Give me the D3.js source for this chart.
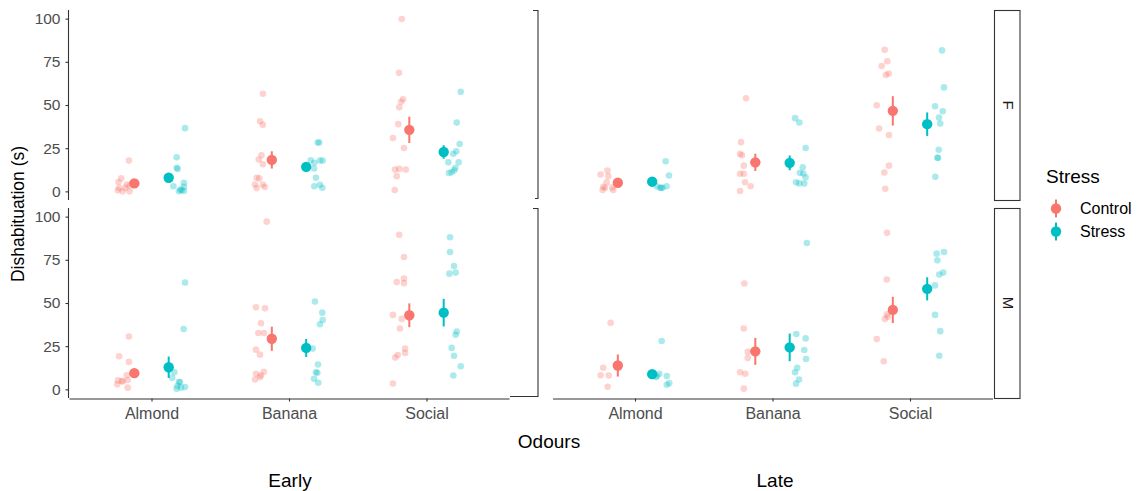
<!DOCTYPE html>
<html>
<head>
  <title>Dishabituation by odour</title>
  <script src="https://d3js.org/d3.v7.min.js"></script>
  <style>
    body { margin: 0; background: #fff; }
    text { font-family: "Liberation Sans", Arial, sans-serif; }
    .tick text { fill: #4d4d4d; }
    .y-axis .tick text { font-size: 15.5px; }
    .x-axis .tick text { font-size: 16px; }
    .tick line, .domain { stroke: #333; stroke-width: 1.1; }
  </style>
</head>
<body>
  <svg id="chart"></svg>

  <script>
    var times = ["Early", "Late"];
    var sexes = ["F", "M"];
    var odours = ["Almond", "Banana", "Social"];
    var groups = ["Control", "Stress"];
    var yTicks = [0, 25, 50, 75, 100];
    var colors = ["#F8766D", "#00BFC4"];

    // raw points: [odour, group, jitter (category units), value]
    var pointsEarlyF = [
      ["Almond","Control",-0.164,17.8],["Almond","Control",-0.22,7.5],["Almond","Control",-0.24,5.4],
      ["Almond","Control",-0.18,4.0],["Almond","Control",-0.16,3.4],["Almond","Control",-0.245,0.6],
      ["Almond","Control",-0.21,0.0],["Almond","Control",-0.16,0.0],["Almond","Control",-0.19,2.0],
      ["Almond","Control",-0.235,2.0],
      ["Almond","Stress",0.244,36.6],["Almond","Stress",0.183,19.7],["Almond","Stress",0.183,13.6],
      ["Almond","Stress",0.19,13.0],["Almond","Stress",0.159,3.0],["Almond","Stress",0.236,5.0],
      ["Almond","Stress",0.236,2.7],["Almond","Stress",0.22,0.8],["Almond","Stress",0.236,0.2],
      ["Almond","Stress",0.21,1.0],["Almond","Stress",0.2,0.0],
      ["Banana","Control",-0.19,56.5],["Banana","Control",-0.21,40.6],["Banana","Control",-0.19,38.5],
      ["Banana","Control",-0.20,20.9],["Banana","Control",-0.22,18.4],["Banana","Control",-0.19,15.7],
      ["Banana","Control",-0.235,7.9],["Banana","Control",-0.216,7.5],["Banana","Control",-0.247,4.0],
      ["Banana","Control",-0.235,1.9],["Banana","Control",-0.19,4.0],["Banana","Control",-0.177,2.5],
      ["Banana","Stress",0.209,28.3],["Banana","Stress",0.22,28.3],["Banana","Stress",0.158,18.0],
      ["Banana","Stress",0.184,16.5],["Banana","Stress",0.225,17.8],["Banana","Stress",0.245,17.8],
      ["Banana","Stress",0.182,13.2],["Banana","Stress",0.196,7.9],["Banana","Stress",0.184,3.0],
      ["Banana","Stress",0.225,3.8],["Banana","Stress",0.242,2.1],
      ["Social","Control",-0.18,99.8],["Social","Control",-0.2,68.6],["Social","Control",-0.185,51.9],
      ["Social","Control",-0.17,53.3],["Social","Control",-0.198,48.7],["Social","Control",-0.205,38.9],
      ["Social","Control",-0.244,30.9],["Social","Control",-0.164,25.1],["Social","Control",-0.229,12.6],
      ["Social","Control",-0.198,13.0],["Social","Control",-0.151,12.6],["Social","Control",-0.217,8.8],
      ["Social","Control",-0.231,0.8],
      ["Social","Stress",0.249,57.6],["Social","Stress",0.22,39.8],["Social","Stress",0.241,27.4],
      ["Social","Stress",0.217,23.2],["Social","Stress",0.195,21.8],["Social","Stress",0.159,16.8],
      ["Social","Stress",0.234,16.8],["Social","Stress",0.209,13.6],["Social","Stress",0.202,12.2],
      ["Social","Stress",0.164,10.7],["Social","Stress",0.183,11.1]
    ];

    var pointsEarlyM = [
      ["Almond","Control",-0.164,30.6],["Almond","Control",-0.236,19.2],["Almond","Control",-0.164,15.9],
      ["Almond","Control",-0.18,8.2],["Almond","Control",-0.244,5.2],["Almond","Control",-0.217,4.8],
      ["Almond","Control",-0.209,4.6],["Almond","Control",-0.249,2.9],["Almond","Control",-0.173,5.4],
      ["Almond","Control",-0.173,1.0],
      ["Almond","Stress",0.244,61.9],["Almond","Stress",0.234,34.9],["Almond","Stress",0.166,9.9],
      ["Almond","Stress",0.151,6.7],["Almond","Stress",0.207,4.2],["Almond","Stress",0.2,4.2],
      ["Almond","Stress",0.183,0.4],["Almond","Stress",0.244,1.3],["Almond","Stress",0.19,2.0],
      ["Almond","Stress",0.215,1.0],
      ["Banana","Control",-0.162,97.1],["Banana","Control",-0.24,47.5],["Banana","Control",-0.175,46.9],
      ["Banana","Control",-0.204,38.3],["Banana","Control",-0.223,32.6],["Banana","Control",-0.182,32.6],
      ["Banana","Control",-0.24,23.0],["Banana","Control",-0.211,20.1],["Banana","Control",-0.247,5.7],
      ["Banana","Control",-0.24,9.0],["Banana","Control",-0.204,8.2],["Banana","Control",-0.182,10.2],
      ["Banana","Control",-0.211,7.1],
      ["Banana","Stress",0.189,50.8],["Banana","Stress",0.242,44.4],["Banana","Stress",0.245,40.2],
      ["Banana","Stress",0.225,37.7],["Banana","Stress",0.172,23.6],["Banana","Stress",0.211,14.4],
      ["Banana","Stress",0.196,9.9],["Banana","Stress",0.206,9.6],["Banana","Stress",0.182,6.1],
      ["Banana","Stress",0.213,3.8],
      ["Social","Control",-0.198,89.5],["Social","Control",-0.164,76.6],["Social","Control",-0.217,62.1],
      ["Social","Control",-0.164,64.2],["Social","Control",-0.164,61.5],["Social","Control",-0.244,43.1],
      ["Social","Control",-0.18,40.8],["Social","Control",-0.193,35.2],["Social","Control",-0.156,23.6],
      ["Social","Control",-0.156,21.1],["Social","Control",-0.209,19.9],["Social","Control",-0.227,18.4],
      ["Social","Control",-0.244,3.4],
      ["Social","Stress",0.171,88.1],["Social","Stress",0.171,79.5],["Social","Stress",0.2,71.4],
      ["Social","Stress",0.166,67.0],["Social","Stress",0.212,67.6],["Social","Stress",0.22,33.5],
      ["Social","Stress",0.212,31.6],["Social","Stress",0.183,24.0],["Social","Stress",0.2,19.5],
      ["Social","Stress",0.249,13.4],["Social","Stress",0.195,8.0]
    ];

    var pointsLateF = [
      ["Almond","Control",-0.25,9.8],["Almond","Control",-0.2,12.1],["Almond","Control",-0.194,8.8],
      ["Almond","Control",-0.206,5.3],["Almond","Control",-0.23,2.7],["Almond","Control",-0.218,2.1],
      ["Almond","Control",-0.235,0.8],["Almond","Control",-0.158,0.8],["Almond","Control",-0.165,2.3],
      ["Almond","Stress",0.223,17.4],["Almond","Stress",0.247,9.2],["Almond","Stress",0.158,3.0],
      ["Almond","Stress",0.182,2.1],["Almond","Stress",0.2,2.1],["Almond","Stress",0.23,3.0],
      ["Almond","Stress",0.19,2.0],
      ["Banana","Control",-0.193,53.9],["Banana","Control",-0.229,28.5],["Banana","Control",-0.236,21.7],
      ["Banana","Control",-0.222,20.9],["Banana","Control",-0.209,14.9],["Banana","Control",-0.236,10.2],
      ["Banana","Control",-0.209,10.2],["Banana","Control",-0.2,5.3],["Banana","Control",-0.159,3.0],
      ["Banana","Control",-0.236,0.2],
      ["Banana","Stress",0.164,42.4],["Banana","Stress",0.195,39.8],["Banana","Stress",0.241,25.1],
      ["Banana","Stress",0.22,14.0],["Banana","Stress",0.2,10.7],["Banana","Stress",0.224,10.3],
      ["Banana","Stress",0.241,8.2],["Banana","Stress",0.171,5.3],["Banana","Stress",0.195,4.6],
      ["Banana","Stress",0.231,4.6],
      ["Social","Control",-0.184,82.0],["Social","Control",-0.165,75.3],["Social","Control",-0.206,72.6],
      ["Social","Control",-0.175,67.4],["Social","Control",-0.155,68.2],["Social","Control",-0.242,49.8],
      ["Social","Control",-0.225,36.4],["Social","Control",-0.153,32.6],["Social","Control",-0.153,14.9],
      ["Social","Control",-0.187,10.9],["Social","Control",-0.18,1.5],
      ["Social","Stress",0.233,81.6],["Social","Stress",0.247,60.2],["Social","Stress",0.182,49.3],
      ["Social","Stress",0.238,46.4],["Social","Stress",0.211,42.7],["Social","Stress",0.22,39.3],
      ["Social","Stress",0.209,24.1],["Social","Stress",0.199,19.4],["Social","Stress",0.204,19.4],
      ["Social","Stress",0.184,8.4]
    ];

    var pointsLateM = [
      ["Almond","Control",-0.177,38.5],["Almond","Control",-0.231,12.5],["Almond","Control",-0.25,8.2],
      ["Almond","Control",-0.191,8.0],["Almond","Control",-0.199,1.5],
      ["Almond","Stress",0.194,28.0],["Almond","Stress",0.177,9.0],["Almond","Stress",0.153,7.1],
      ["Almond","Stress",0.231,7.7],["Almond","Stress",0.231,2.7],["Almond","Stress",0.249,3.6],
      ["Almond","Stress",0.16,7.7],
      ["Banana","Control",-0.205,61.3],["Banana","Control",-0.209,35.2],["Banana","Control",-0.18,21.7],
      ["Banana","Control",-0.18,18.2],["Banana","Control",-0.236,9.9],["Banana","Control",-0.198,9.0],
      ["Banana","Control",-0.209,0.4],
      ["Banana","Stress",0.25,84.7],["Banana","Stress",0.173,32.0],["Banana","Stress",0.241,29.5],
      ["Banana","Stress",0.231,22.8],["Banana","Stress",0.244,17.6],["Banana","Stress",0.18,12.5],
      ["Banana","Stress",0.164,9.9],["Banana","Stress",0.193,5.7],["Banana","Stress",0.171,3.3],
      ["Social","Control",-0.167,90.6],["Social","Control",-0.169,63.6],["Social","Control",-0.169,43.5],
      ["Social","Control",-0.182,40.8],["Social","Control",-0.16,42.0],["Social","Control",-0.242,29.1],
      ["Social","Control",-0.191,16.3],
      ["Social","Stress",0.194,78.6],["Social","Stress",0.247,79.5],["Social","Stress",0.199,74.7],
      ["Social","Stress",0.213,66.5],["Social","Stress",0.242,67.6],["Social","Stress",0.182,60.2],
      ["Social","Stress",0.182,43.1],["Social","Stress",0.22,33.7],["Social","Stress",0.213,19.5]
    ];

    // mean and standard error: [odour, group, mean, se]
    var meansEarlyF = [
      ["Almond","Control",4.6,1.2],["Almond","Stress",7.9,2.0],
      ["Banana","Control",18.2,5.0],["Banana","Stress",14.2,2.0],
      ["Social","Control",35.6,7.6],["Social","Stress",22.8,3.9]
    ];
    var meansEarlyM = [
      ["Almond","Control",9.4,2.5],["Almond","Stress",12.8,6.2],
      ["Banana","Control",29.3,7.0],["Banana","Stress",24.0,5.2],
      ["Social","Control",42.9,6.9],["Social","Stress",44.4,8.0]
    ];
    var meansLateF = [
      ["Almond","Control",5.0,1.5],["Almond","Stress",5.6,1.2],
      ["Banana","Control",16.8,5.0],["Banana","Stress",16.5,4.3],
      ["Social","Control",46.6,8.5],["Social","Stress",38.9,6.8]
    ];
    var meansLateM = [
      ["Almond","Control",13.8,6.4],["Almond","Stress",8.8,1.5],
      ["Banana","Control",22.0,7.8],["Banana","Stress",24.3,8.0],
      ["Social","Control",46.0,7.6],["Social","Stress",58.2,6.7]
    ];

    var panels = [
      { time: "Early", sex: "F", points: pointsEarlyF, means: meansEarlyF },
      { time: "Early", sex: "M", points: pointsEarlyM, means: meansEarlyM },
      { time: "Late", sex: "F", points: pointsLateF, means: meansLateF },
      { time: "Late", sex: "M", points: pointsLateM, means: meansLateM }
    ];

    var width = 1144, height = 491;
    var dodge = 0.125;

    var svg = d3.select("#chart")
      .attr("width", width)
      .attr("height", height);

    var xRanges = { Early: [69, 509], Late: [552.5, 992.5] };
    var yRanges = { F: [200, 10], M: [398, 208] };

    var color = d3.scaleOrdinal().domain(groups).range(colors);

    panels.forEach(function(p) {
      var x = d3.scalePoint().domain(odours).range(xRanges[p.time]).padding(0.6);
      var y = d3.scaleLinear().domain([-5, 105]).range(yRanges[p.sex]);
      var step = x.step();
      var g = svg.append("g");

      g.selectAll(".pt")
        .data(p.points)
        .enter()
        .append("circle")
        .attr("class", "pt")
        .attr("cx", d => x(d[0]) + d[2] * step)
        .attr("cy", d => y(d[3]))
        .attr("r", 3.3)
        .attr("fill", d => color(d[1]))
        .attr("fill-opacity", 0.33);

      g.selectAll(".err")
        .data(p.means)
        .enter()
        .append("line")
        .attr("class", "err")
        .attr("x1", d => x(d[0]) + (d[1] === "Control" ? -dodge : dodge) * step)
        .attr("x2", d => x(d[0]) + (d[1] === "Control" ? -dodge : dodge) * step)
        .attr("y1", d => y(d[2] - d[3]))
        .attr("y2", d => y(d[2] + d[3]))
        .attr("stroke", d => color(d[1]))
        .attr("stroke-width", 2);

      g.selectAll(".mean")
        .data(p.means)
        .enter()
        .append("circle")
        .attr("class", "mean")
        .attr("cx", d => x(d[0]) + (d[1] === "Control" ? -dodge : dodge) * step)
        .attr("cy", d => y(d[2]))
        .attr("r", 5.2)
        .attr("fill", d => color(d[1]));

      if (p.time === "Early") {
        svg.append("g")
          .attr("class", "y-axis")
          .attr("transform", "translate(" + (xRanges.Early[0] - 0.5) + ",0)")
          .call(d3.axisLeft(y).tickValues(yTicks).tickSize(3).tickPadding(5).tickSizeOuter(0))
          .call(a => a.select(".domain").attr("d", "M0," + yRanges[p.sex][0] + "V" + yRanges[p.sex][1]))
          .call(a => a.selectAll("text").attr("font-family", null).attr("font-size", null));
      }
      if (p.sex === "M") {
        svg.append("g")
          .attr("class", "x-axis")
          .attr("transform", "translate(0," + (yRanges.M[0] + 0.5) + ")")
          .call(d3.axisBottom(x).tickSize(3).tickPadding(6).tickSizeOuter(0))
          .call(a => a.selectAll("text").attr("font-family", null).attr("font-size", null));
      }
      if (p.time === "Late") {
        svg.append("rect")
          .attr("x", 994.5).attr("y", yRanges[p.sex][1] + 0.5)
          .attr("width", 25.5).attr("height", yRanges[p.sex][0] - yRanges[p.sex][1])
          .attr("fill", "#fff").attr("stroke", "#333").attr("stroke-width", 1.1);
        svg.append("text")
          .attr("transform", "translate(1002.5," + ((yRanges[p.sex][0] + yRanges[p.sex][1]) / 2) + ") rotate(90)")
          .attr("text-anchor", "middle")
          .attr("fill", "#1a1a1a")
          .style("font-size", "15px")
          .text(p.sex);
      } else {
        // remnants of the cut strip boxes of the Early plot
        var top = yRanges[p.sex][1] + 0.5, bot = yRanges[p.sex][0] - 1.5;
        svg.append("path")
          .attr("d", "M533," + top + "H538V" + bot + (p.sex === "F" ? "H535" : "H510"))
          .attr("fill", "none").attr("stroke", "#333").attr("stroke-width", 1.1);
      }
    });

    // titles
    svg.append("text")
      .attr("transform", "translate(24,214) rotate(-90)")
      .attr("text-anchor", "middle")
      .style("font-size", "17.5px")
      .text("Dishabituation (s)");

    svg.append("text")
      .attr("x", 549).attr("y", 448)
      .attr("text-anchor", "middle")
      .style("font-size", "19px")
      .text("Odours");

    svg.selectAll(".time-label")
      .data(times)
      .enter()
      .append("text")
      .attr("class", "time-label")
      .attr("x", d => d === "Early" ? 290 : 775)
      .attr("y", 487)
      .attr("text-anchor", "middle")
      .style("font-size", "19px")
      .text(d => d);

    // legend
    var legend = svg.append("g").attr("transform", "translate(1046,0)");
    legend.append("text")
      .attr("x", 0).attr("y", 183)
      .style("font-size", "19px")
      .text("Stress");

    var items = legend.selectAll(".item")
      .data(groups)
      .enter()
      .append("g")
      .attr("class", "item")
      .attr("transform", (d, i) => "translate(10," + (208.5 + i * 23) + ")");
    items.append("line")
      .attr("y1", -9).attr("y2", 9)
      .attr("stroke", d => color(d))
      .attr("stroke-width", 2);
    items.append("circle")
      .attr("r", 5.2)
      .attr("fill", d => color(d));
    items.append("text")
      .attr("x", 24).attr("y", 5.5)
      .style("font-size", "16px")
      .text(d => d);
  </script>
</body>
</html>
